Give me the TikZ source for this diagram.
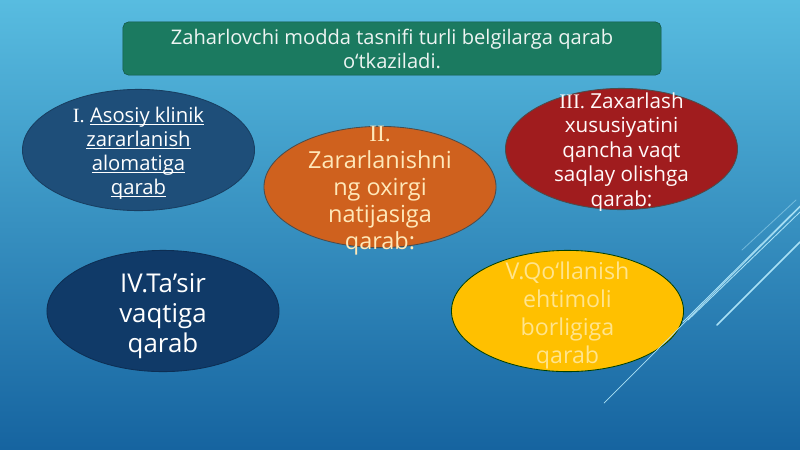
\documentclass[tikz,border=0pt]{standalone}
\usepackage{fontspec}
\setmainfont{Open Sans}
\newfontfamily\numfont{Liberation Serif}
\usepackage{tikz}
\usetikzlibrary{shapes.geometric}
\definecolor{bgtop}{RGB}{88,188,224}
\definecolor{bgbot}{RGB}{22,100,160}
\definecolor{titlegreen}{RGB}{27,122,96}
\definecolor{klinikblue}{RGB}{30,78,121}
\definecolor{natijaorange}{RGB}{207,97,30}
\definecolor{vaqtred}{RGB}{160,28,30}
\definecolor{tasirnavy}{RGB}{16,58,104}
\definecolor{ehtimolyellow}{RGB}{255,192,0}
\definecolor{palecream}{RGB}{255,232,185}
\definecolor{paleyellow}{RGB}{255,228,140}
\definecolor{decoline}{RGB}{170,225,245}
\newsavebox\ulinebox
\newcommand{\uline}[1]{\sbox\ulinebox{#1}\rlap{\rule[-1.6pt]{\wd\ulinebox}{0.6pt}}\usebox\ulinebox}

\begin{document}
\begin{tikzpicture}[x=0.025cm,y=-0.025cm,
	bubble/.style={ellipse, inner sep=0pt, minimum width=5.8cm, minimum height=3.03cm, draw=black!70, line width=0.6pt},
	bubbletext/.style={align=center, inner sep=0pt},
	deco/.style={decoline, line cap=round}]
	%\draw[help lines] (0,0) grid[step=50] (800,449);
	\useasboundingbox (0,0) rectangle (800,449);
	\shade[top color=bgtop, bottom color=bgbot] (0,0) rectangle (800,449);
	% title
	\node[draw=titlegreen!70!black, fill=titlegreen, rounded corners=4pt, minimum width=13.45cm, minimum height=1.33cm, align=center, text=white!92!titlegreen, font=\fontsize{14.3}{17}\selectfont] (title) at (392,48.5)
		{Zaharlovchi modda tasnifi turli belgilarga qarab\\o‘tkaziladi.};
	% ellipses
	\node[bubble, fill=klinikblue, draw=klinikblue!80!black] (klinik) at (138.5,150) {};
	\node[bubbletext, text=white, font=\fontsize{14.4}{17}\selectfont] (klinikT) at (138.5,153)
		{{\numfont I.} \uline{Asosiy klinik}\\\uline{zararlanish}\\\uline{alomatiga}\\\uline{qarab}};
	\node[bubble, fill=natijaorange] (natija) at (380,187) {};
	\node[bubbletext, text=palecream, font=\fontsize{16.7}{19.2}\selectfont] (natijaT) at (380,191)
		{{\numfont II.}\\Zararlanishni\\ng oxirgi\\natijasiga\\qarab:};
	\node[bubble, fill=vaqtred] (saqlash) at (621.5,149) {};
	\node[bubbletext, text=white!90!pink, font=\fontsize{14.7}{17.4}\selectfont] (saqlashT) at (621.5,152)
		{{\numfont III.} Zaxarlash\\xususiyatini\\qancha vaqt\\saqlay olishga\\qarab:};
	\node[bubble, fill=tasirnavy, draw=tasirnavy!80!black] (tasir) at (163,311) {};
	\node[bubbletext, text=white, font=\fontsize{18.4}{21.3}\selectfont] (tasirT) at (163,316)
		{IV.Ta’sir\\vaqtiga\\qarab};
	\node[bubble, fill=ehtimolyellow, draw=black!75!green] (ehtimol) at (567.5,311) {};
	\node[bubbletext, text=paleyellow, font=\fontsize{16.5}{19.9}\selectfont] (ehtimolT) at (567.5,315)
		{V.Qo‘llanish\\ehtimoli\\borligiga\\qarab};
	% lines on the right
	\draw[deco, line width=0.5pt] (604,403) -- (800,207);
	\draw[deco, line width=0.7pt] (683,322) -- (800,206);
	\draw[deco, line width=0.6pt] (688,320) -- (800,212);
	\draw[deco, line width=1.2pt] (717,325) -- (800,242);
	\draw[deco, line width=0.6pt, opacity=0.5] (742,250) -- (796,200);
\end{tikzpicture}
\end{document}
